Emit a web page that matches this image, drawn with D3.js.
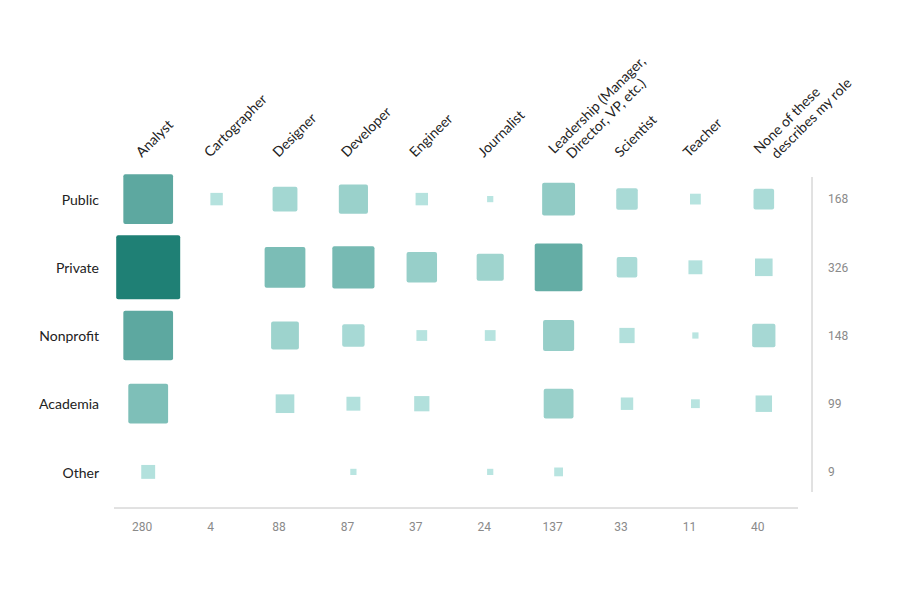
<!DOCTYPE html>
<html>
<head>
<meta charset="utf-8">
<script src="https://cdn.jsdelivr.net/npm/d3@7"></script>
<style>
  body { margin: 0; background: #fff; }
  svg { display: block; }
  .lbl { font-family: Lato, "Open Sans", sans-serif; font-size: 14px; fill: #222; }
  .num { font-family: Roboto, sans-serif; font-size: 12px; fill: #8a8a8a; }
</style>
</head>
<body>
<svg id="chart" width="901" height="600"></svg>
<script>
// role columns (a label may wrap onto two lines)
const roles = [
  ["Analyst"],
  ["Cartographer"],
  ["Designer"],
  ["Developer"],
  ["Engineer"],
  ["Journalist"],
  ["Leadership (Manager,", "Director, VP, etc.)"],
  ["Scientist"],
  ["Teacher"],
  ["None of these", "describes my role"]
]
const sectors = ["Public", "Private", "Nonprofit", "Academia", "Other"]
const sectorTotals = [168, 326, 148, 99, 9]
const roleTotals = [280, 4, 88, 87, 37, 24, 137, 33, 11, 40]

// counts per sector, in role order
const publicCounts    = [64, 4, 16, 22, 4, 1, 28, 12, 3, 11]
const privateCounts   = [106, 0, 43, 46, 24, 19, 59, 11, 5, 8]
const nonprofitCounts = [64, 0, 20, 13, 3, 3, 25, 6, 1, 14]
const academiaCounts  = [41, 0, 9, 5, 6, 0, 23, 4, 2, 7]
const otherCounts     = [5, 0, 0, 1, 0, 1, 2, 0, 0, 0]

const countsBySector = [publicCounts, privateCounts, nonprofitCounts, academiaCounts, otherCounts]

const cells = []
countsBySector.forEach((counts, r) => {
  counts.forEach((v, c) => {
    if (v > 0) cells.push({row: r, col: c, value: v})
  })
})

const svg = d3.select("#chart")
const maxVal = d3.max(cells, d => d.value)

const x = d3.scaleBand().domain(d3.range(roles.length)).range([114, 798])
const y = d3.scaleBand().domain(d3.range(sectors.length)).range([165, 506])
const size = d3.scaleSqrt().domain([0, maxVal]).range([0, 64])
const color = d3.scaleLinear().domain([1, maxVal]).range(["#b9e5e1", "#1f8075"])

const cx = i => x(i) + x.bandwidth() / 2
const cy = i => y(i) + y.bandwidth() / 2

// squares
svg.append("g")
  .selectAll("rect")
  .data(cells)
  .join("rect")
  .attr("x", d => cx(d.col) - size(d.value) / 2)
  .attr("y", d => cy(d.row) - size(d.value) / 2)
  .attr("width", d => size(d.value))
  .attr("height", d => size(d.value))
  .attr("rx", d => size(d.value) >= 20 ? 2 : 0)
  .attr("fill", d => color(d.value))

// sector labels on the left
svg.append("g")
  .selectAll("text")
  .data(sectors)
  .join("text")
  .attr("class", "lbl")
  .attr("x", 99)
  .attr("y", (d, i) => cy(i))
  .attr("dy", "0.4em")
  .attr("text-anchor", "end")
  .text(d => d)

// role labels, rotated
const roleLabels = svg.append("g")
  .selectAll("text")
  .data(roles)
  .join("text")
  .attr("class", "lbl")
  .attr("transform", (d, i) => `translate(${cx(i) - 6.5}, 158) rotate(-45)`)

roleLabels.selectAll("tspan")
  .data(d => d.map((line, k) => ({line, k, n: d.length})))
  .join("tspan")
  .attr("x", d => d.n === 1 ? 0 : (d.k === 0 ? 4 : 13))
  .attr("y", d => d.n === 1 ? 0 : (d.k === 0 ? -1 : 15))
  .text(d => d.line)

// totals on the right
svg.append("line")
  .attr("x1", 812).attr("x2", 812)
  .attr("y1", y.range()[0] + 12).attr("y2", y.range()[1] - 14)
  .attr("stroke", "#c4c4c4")

svg.append("g")
  .selectAll("text")
  .data(sectorTotals)
  .join("text")
  .attr("class", "num")
  .attr("x", 828)
  .attr("y", (d, i) => cy(i))
  .attr("dy", "0.35em")
  .text(d => d)

// totals along the bottom
svg.append("line")
  .attr("x1", x.range()[0]).attr("x2", x.range()[1])
  .attr("y1", 508).attr("y2", 508)
  .attr("stroke", "#c4c4c4")

svg.append("g")
  .selectAll("text")
  .data(roleTotals)
  .join("text")
  .attr("class", "num")
  .attr("x", (d, i) => cx(i) - 6)
  .attr("y", 527)
  .attr("dy", "0.35em")
  .attr("text-anchor", "middle")
  .text(d => d)
</script>
</body>
</html>
